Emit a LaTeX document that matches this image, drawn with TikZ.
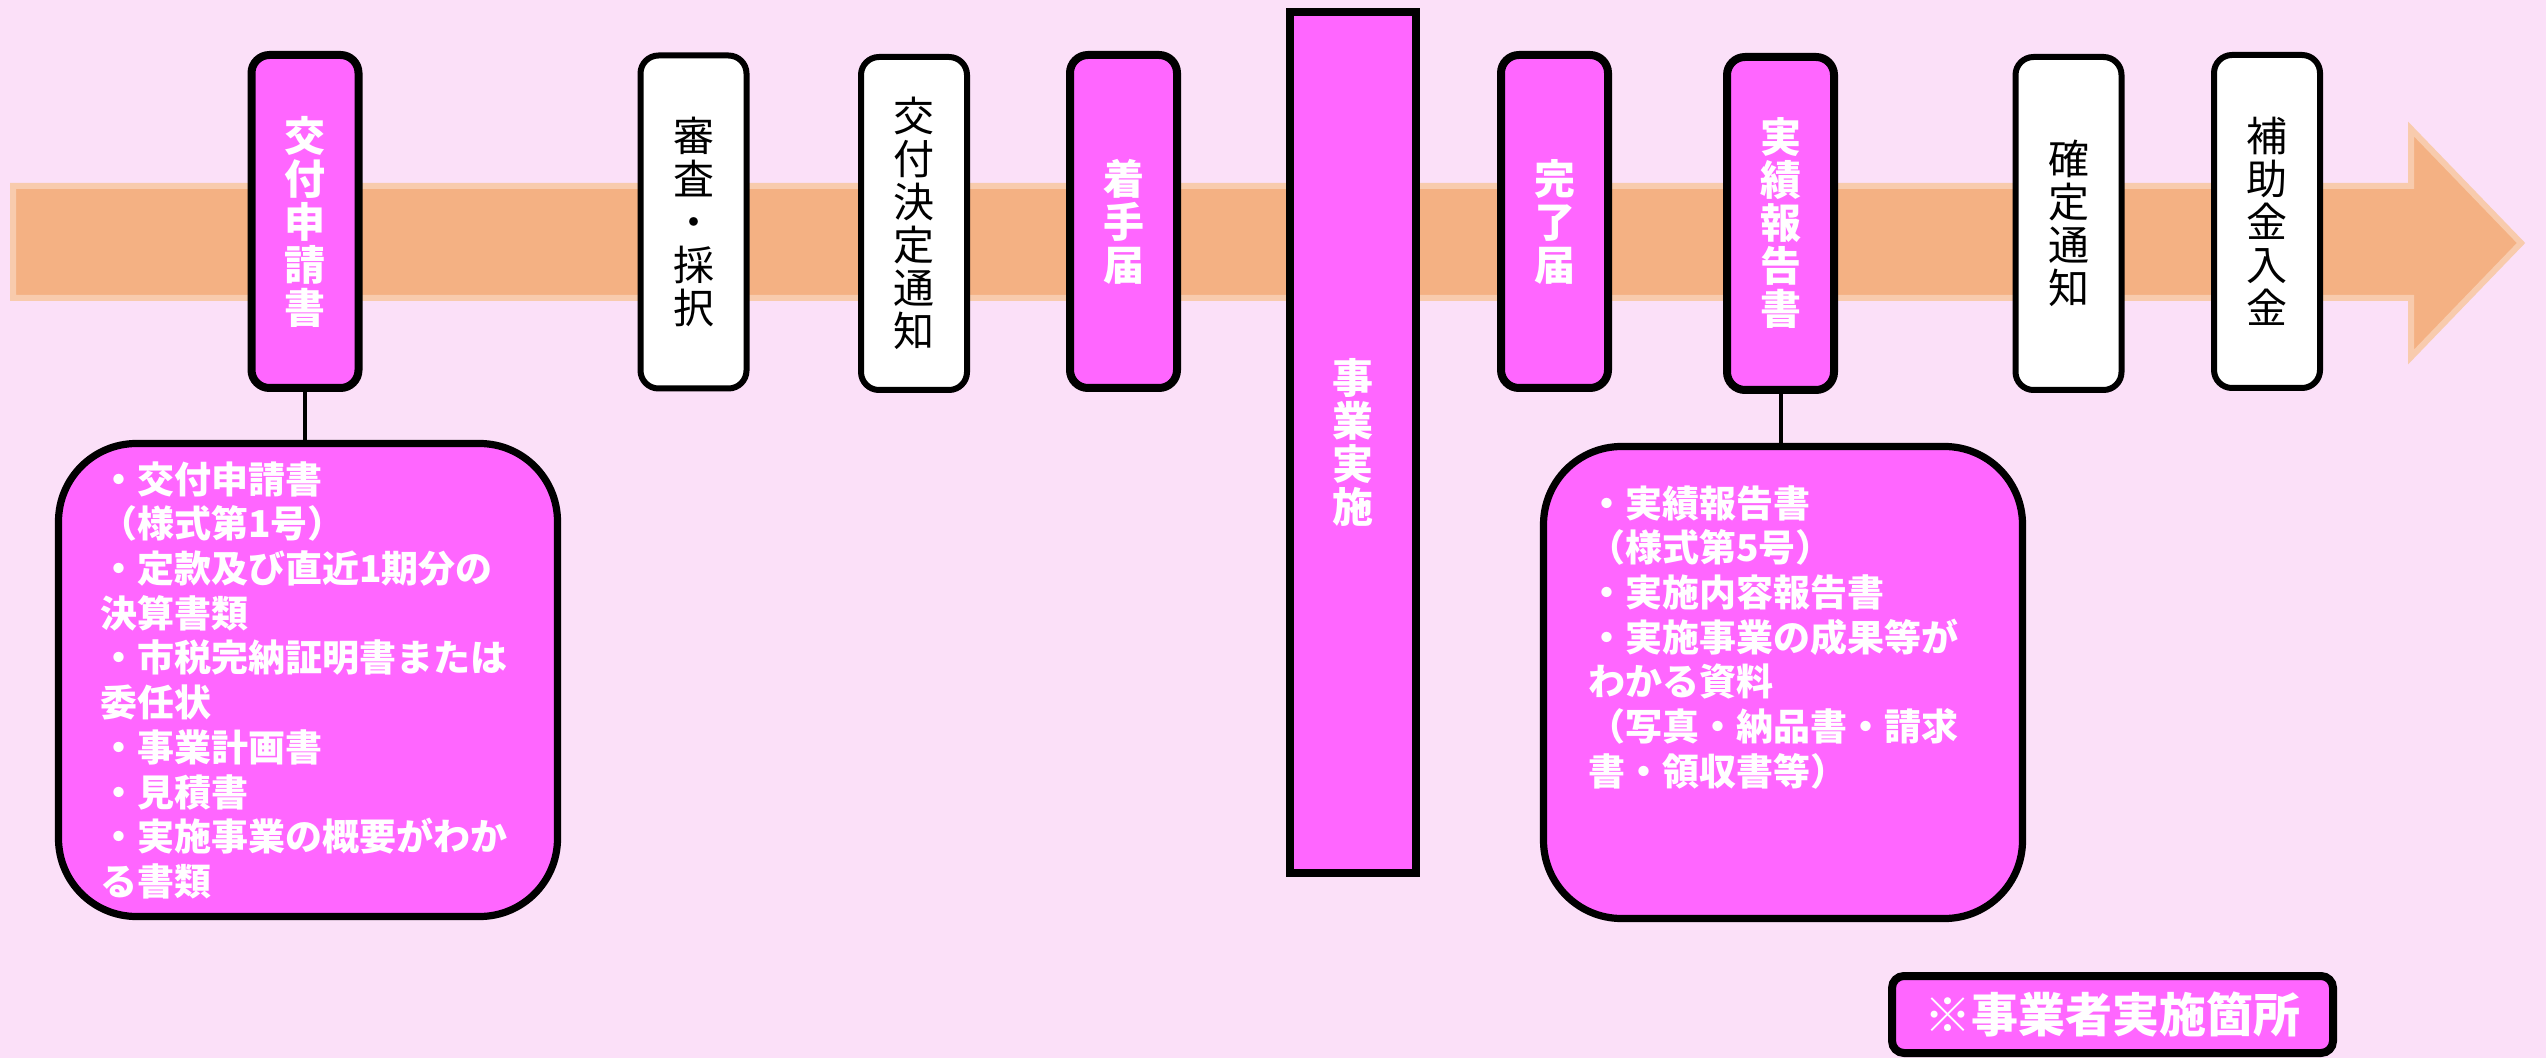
\documentclass[tikz,border=0pt]{standalone}
\usepackage{fontspec}
\setmainfont{Noto Sans CJK JP}
\usetikzlibrary{positioning}

\definecolor{bgpink}{RGB}{251,224,248}
\definecolor{boxpink}{RGB}{255,102,255}
\definecolor{arrowfill}{RGB}{244,177,131}
\definecolor{arrowedge}{RGB}{248,203,173}

\tikzset{
  stage/.style={draw=black, rounded corners=9pt, align=center, inner sep=0pt},
  ownstage/.style={stage, fill=boxpink, line width=4pt, text=white,
    font=\fontsize{20.5}{21.5}\selectfont\bfseries,
    minimum width=53.5pt, minimum height=166.5pt},
  govstage/.style={stage, fill=white, line width=3pt, text=black,
    font=\fontsize{20.5}{21.5}\selectfont,
    minimum width=53pt, minimum height=166.5pt},
  docbox/.style={draw=black, fill=boxpink, line width=3.6pt, rounded corners=39pt, inner sep=0pt},
  doctext/.style={anchor=north west, align=left, inner sep=0pt, text=white,
    font=\fontsize{18.5}{22.35}\selectfont\bfseries},
  link/.style={draw=black, line width=2pt},
}

\begin{document}
\begin{tikzpicture}[x=0.5pt,y=0.5pt,yscale=-1]

%Background
\fill[bgpink] (0,0) rectangle (2546,1058);
\useasboundingbox (0,0) rectangle (2546,1058);

%Shape: Right Arrow
\draw[fill=arrowfill, draw=arrowedge, line width=3pt, line join=miter]
  (13,186) -- (2411,186) -- (2411,129) -- (2521,243) -- (2411,357) -- (2411,298) -- (13,298) -- cycle;

% Stage Nodes
\node[ownstage] (kofu) at (305,221.5) {交\\付\\申\\請\\書};
\node[govstage] (shinsa) at (693.5,222) {審\\査\\・\\採\\択};
\node[govstage] (kettei) at (914,223.5) {交\\付\\決\\定\\通\\知};
\node[ownstage] (chakushu) at (1123.5,221.5) {着\\手\\届};
\node[ownstage, rounded corners=0pt, minimum width=63pt, minimum height=430.5pt,
  font=\fontsize{20.5}{21.5}\selectfont\bfseries] (jigyo) at (1353,442.5) {事\\業\\実\\施};
\node[ownstage] (kanryo) at (1554.5,221.5) {完\\了\\届};
\node[ownstage] (jisseki) at (1780.5,223.5) {実\\績\\報\\告\\書};
\node[govstage] (kakutei) at (2068.5,223.5) {確\\定\\通\\知};
\node[govstage] (nyukin) at (2267,221.5) {補\\助\\金\\入\\金};

%Shape: Document Boxes
\node[docbox, minimum width=249.5pt, minimum height=236.5pt] (kofudocs) at (308,680) {};
\node[docbox, minimum width=239.5pt, minimum height=236pt] (jissekidocs) at (1783,682.5) {};

% Connectors
\draw[link] (kofu.south) -- (kofu.south |- kofudocs.north);
\draw[link] (jisseki.south) -- (jisseki.south |- jissekidocs.north);

% Text Node
\node[doctext] (kofulist) at (100,461) {・交付申請書\\（様式第1号）\\・定款及び直近1期分の\\決算書類\\・市税完納証明書または\\委任状\\・事業計画書\\・見積書\\・実施事業の概要がわか\\る書類};
% Text Node
\node[doctext] (jissekilist) at (1588,485) {・実績報告書\\（様式第5号）\\・実施内容報告書\\・実施事業の成果等が\\わかる資料\\（写真・納品書・請求\\書・領収書等）};

% Legend
\node[stage, rounded corners=6pt, fill=boxpink, line width=4pt, text=white,
  font=\fontsize{23.5}{24}\selectfont\bfseries,
  minimum width=220.5pt, minimum height=38.5pt] (legend) at (2112.5,1014.5) {※事業者実施箇所};

\end{tikzpicture}
\end{document}
